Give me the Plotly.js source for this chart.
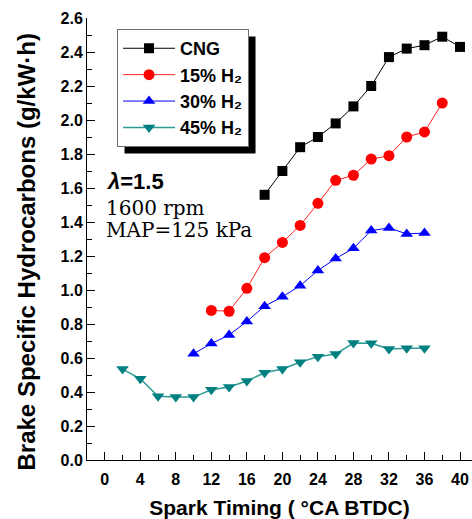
<!DOCTYPE html>
<html><head><meta charset="utf-8">
<script src="https://cdn.plot.ly/plotly-3.0.1.min.js"></script>
<style>html,body{margin:0;padding:0;background:#fff}#chart{width:472px;height:519px}</style>
</head><body><div id="chart"></div>
<script>
var cngX = [18,20,22,24,26,28,30,32,34,36,38,40];
var cngY = [1.56,1.70,1.84,1.90,1.98,2.08,2.20,2.37,2.42,2.44,2.49,2.43];
var h15X = [12,14,16,18,20,22,24,26,28,30,32,34,36,38];
var h15Y = [0.88,0.875,1.01,1.19,1.28,1.38,1.51,1.645,1.675,1.77,1.79,1.90,1.93,2.10];
var h30X = [10,12,14,16,18,20,22,24,26,28,30,32,34,36];
var h30Y = [0.625,0.685,0.735,0.815,0.905,0.96,1.025,1.115,1.185,1.245,1.35,1.365,1.33,1.335];
var h45X = [2,4,6,8,10,12,14,16,18,20,22,24,26,28,30,32,34,36];
var h45Y = [0.535,0.478,0.375,0.37,0.37,0.413,0.43,0.465,0.513,0.535,0.575,0.608,0.623,0.688,0.687,0.653,0.658,0.658];
var names = ['CNG','15% H₂','30% H₂','45% H₂'];
var xTicks = [0,4,8,12,16,20,24,28,32,36,40];

var sans = 'Liberation Sans, Arial, sans-serif';
var ML = 87, MT = 18, PW = 385, PH = 442;
function tr(x,y,name,color,lc,sym,size,lw){
  return {x:x,y:y,name:name,type:'scatter',mode:'lines+markers',
    line:{color:lc,width:lw},marker:{symbol:sym,size:size,color:color,line:{width:0}}};
}
var data = [
  tr(cngX,cngY,names[0],'#000000','#000000','square',10,1),
  tr(h15X,h15Y,names[1],'#ff0000','#ff2020','circle',11,1),
  tr(h30X,h30Y,names[2],'#0000ff','#0000ff','triangle-up',11,1),
  tr(h45X,h45Y,names[3],'#008080','#2a9a94','triangle-down',11,1.5)
];
var layout = {
  width:472,height:519,
  margin:{l:ML,r:0,t:MT,b:59},
  paper_bgcolor:'#fff',plot_bgcolor:'#fff',
  showlegend:true,
  legend:{x:0.078,y:0.975,xanchor:'left',yanchor:'top',bgcolor:'#fff',
    bordercolor:'#707070',borderwidth:1,itemwidth:52,entrywidth:64,
    font:{family:sans,size:18,color:'#000',weight:'bold'},tracegroupgap:0},
  xaxis:{range:[-2,41.35],tickmode:'array',tickvals:xTicks,ticktext:xTicks.map(String),
    ticks:'inside',ticklen:8,tickwidth:1,tickcolor:'#000',ticklabelstandoff:5,
    minor:{dtick:2,tick0:0,ticks:'inside',ticklen:5,tickwidth:1,tickcolor:'#000',showgrid:false},
    showline:true,linecolor:'#000',linewidth:1,showgrid:false,zeroline:false,
    tickfont:{family:sans,size:16,color:'#000',weight:'bold'},
    title:{text:'Spark Timing ( °CA BTDC)',font:{family:sans,size:21,color:'#000',weight:'bold'},standoff:16}},
  yaxis:{range:[0,2.6],dtick:0.2,tick0:0,tickformat:'.1f',
    ticks:'inside',ticklen:8,tickwidth:1,tickcolor:'#000',
    minor:{dtick:0.1,tick0:0,ticks:'inside',ticklen:5,tickwidth:1,tickcolor:'#000',showgrid:false},
    showline:true,linecolor:'#000',linewidth:1,showgrid:false,zeroline:false,
    tickfont:{family:sans,size:16,color:'#000',weight:'bold'}},
  shapes:[{type:'rect',xref:'paper',yref:'paper',x0:0.096,x1:0.431,y0:0.710,y1:0.961,
    fillcolor:'#000',line:{width:0},layer:'above'}],
  annotations:[
    {xref:'paper',yref:'paper',x:(26-ML)/PW,y:(460-252.5)/PH,xanchor:'center',yanchor:'middle',showarrow:false,
     textangle:-90,text:'Brake Specific Hydrocarbons (g/kW·h)',font:{family:sans,size:24,color:'#000',weight:'bold'}},
    {xref:'paper',yref:'paper',x:(105-ML)/PW,y:(460-181)/PH,xanchor:'left',yanchor:'middle',showarrow:false,
     text:'<i>λ</i>=1.5',font:{family:sans,size:22,color:'#000',weight:'bold'}},
    {xref:'paper',yref:'paper',x:(104-ML)/PW,y:(460-208)/PH,xanchor:'left',yanchor:'middle',showarrow:false,
     text:'1600 rpm',font:{family:'DejaVu Serif, serif',size:20,color:'#000'}},
    {xref:'paper',yref:'paper',x:(104-ML)/PW,y:(460-230)/PH,xanchor:'left',yanchor:'middle',showarrow:false,
     text:'MAP=125 kPa',font:{family:'DejaVu Serif, serif',size:20,color:'#000'}}
  ]
};
Plotly.newPlot('chart',data,layout,{displayModeBar:false,staticPlot:true}).then(function(gd){
  var bg = gd.querySelector('.legend .bg');
  if(!bg) return;
  var r = bg.getBoundingClientRect();
  var c = gd.getBoundingClientRect();
  var l = r.left - c.left, t = r.top - c.top, rr = r.right - c.left, b = r.bottom - c.top;
  var off = 7;
  return Plotly.relayout(gd, {'shapes[0].x0':(l+off-ML)/PW,'shapes[0].x1':(rr+off-ML)/PW,
    'shapes[0].y0':(MT+PH-(b+off))/PH,'shapes[0].y1':(MT+PH-(t+off))/PH});
});
</script></body></html>
